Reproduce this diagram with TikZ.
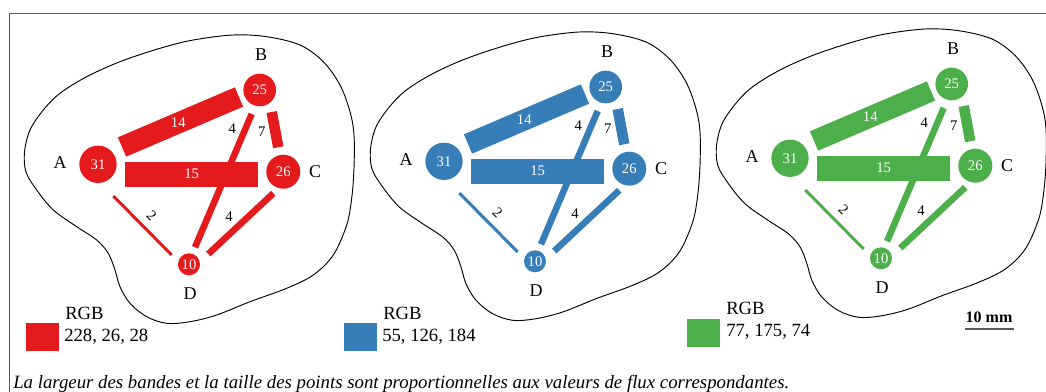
\documentclass[tikz,border=0pt]{standalone}
\usepackage{fontspec}
\setmainfont{Liberation Serif}
\definecolor{cred}{RGB}{228,26,28}
\definecolor{cblue}{RGB}{55,126,184}
\definecolor{cgreen}{RGB}{77,175,74}
\definecolor{framegray}{RGB}{90,90,90}
\begin{document}
\begin{tikzpicture}[x=0.75pt,y=-0.75pt,
  frame/.style={draw=framegray, line width=1.1pt},
  blob/.style={draw=black, line width=0.7pt},
  spot/.style={circle, inner sep=0pt, text=white, font=\fontsize{11}{13}\selectfont},
  band/.style={line cap=butt},
  bandlab/.style={font=\fontsize{11}{13}\selectfont, inner sep=0pt},
  letter/.style={font=\fontsize{13.5}{15}\selectfont, inner sep=0pt},
  legtext/.style={font=\fontsize{14}{16}\selectfont, inner sep=0pt, anchor=west},
  legsq/.style={inner sep=0pt, minimum width=24.75pt, minimum height=21pt},
]
\useasboundingbox (0,0) rectangle (1046,392);
\coordinate (f1) at (9.5,392);
\coordinate (f2) at (9.5,13.5);
\coordinate (f3) at (1046,13.5);
\draw[frame] (f1) -- (f2) -- (f3);

\foreach \i/\col/\dx/\dy in {1/cred/0/0, 2/cblue/346/-3, 3/cgreen/692/-6}{
 \begin{scope}[shift={(\dx,\dy)}]
  \draw[blob] plot[smooth cycle, tension=0.55] coordinates {
   (24.5,152) (30,130) (43.3,110) (60,93.3) (86.7,76.7) (120,61.7) (160,48.3)
   (193.3,40) (233.3,35) (266.7,36.7) (300,45) (323.3,61.7) (340,85)
   (350,111.7) (354,135) (354,168.3) (351.7,198.3) (346.7,225) (333.3,255)
   (313.3,275) (286.7,288.3) (250,301.7) (216.7,315) (190,321.7) (166.7,323.3)
   (146.7,316.7) (130,303.3) (120,286.7) (115,270) (108.3,253.3) (96.7,240)
   (76.7,226.7) (53.3,210) (36.7,190) (26,172)};
  % band end points
  \coordinate (ab1\i) at (122,147);   \coordinate (ab2\i) at (239,97);
  \coordinate (ac1\i) at (125,174.5); \coordinate (ac2\i) at (258,174.5);
  \coordinate (bc1\i) at (271.7,112); \coordinate (bc2\i) at (278.3,147.3);
  \coordinate (bd1\i) at (251.7,114); \coordinate (bd2\i) at (195,247.3);
  \coordinate (cd1\i) at (273.3,193.3); \coordinate (cd2\i) at (208.3,254);
  \coordinate (ad1\i) at (113.3,196); \coordinate (ad2\i) at (171.7,255);
  \draw[band, draw=\col, line width=15.75pt] (ab1\i) -- (ab2\i);
  \draw[band, draw=\col, line width=4.9pt] (bd1\i) -- (bd2\i);
  \draw[band, draw=\col, line width=18.4pt] (ac1\i) -- (ac2\i);
  \draw[band, draw=\col, line width=7.9pt] (bc1\i) -- (bc2\i);
  \draw[band, draw=\col, line width=4.9pt] (cd1\i) -- (cd2\i);
  \draw[band, draw=\col, line width=2.25pt] (ad1\i) -- (ad2\i);
  % band labels
  \node[bandlab, text=white] (l14\i) at (178.3,122.7) {14};
  \node[bandlab, text=white] (l15\i) at (191.7,174) {15};
  \node[bandlab] (lbd\i) at (232.3,128.3) {4};
  \node[bandlab] (lbc\i) at (261.7,131.7) {7};
  \node[bandlab, rotate=-45] (lad\i) at (151.7,216) {2};
  \node[bandlab] (lcd\i) at (229,216.7) {4};
  % spots
  \node[spot, fill=\col, minimum size=28pt] (A\i) at (98,164.3) {31};
  \node[spot, fill=\col, minimum size=24.5pt] (B\i) at (259.7,90) {25};
  \node[spot, fill=\col, minimum size=25.5pt] (C\i) at (283.3,171.7) {26};
  \node[spot, fill=\col, minimum size=16.5pt] (D\i) at (189,264.3) {10};
  % letters
  \node[letter] (tA\i) at (60,163) {A};
  \node[letter] (tB\i) at (261,54.3) {B};
  \node[letter] (tC\i) at (315,171.7) {C};
  \node[letter] (tD\i) at (190,293.3) {D};
 \end{scope}
}

% legends
\node[legsq, fill=cred] (sq1) at (42.5,337) {};
\node[legtext] (rgb1) at (65,313) {RGB};
\node[legtext] (val1) at (64,337) {228, 26, 28};
\node[legsq, fill=cblue] (sq2) at (360,337) {};
\node[legtext] (rgb2) at (383,313) {RGB};
\node[legtext] (val2) at (382,337) {55, 126, 184};
\node[legsq, fill=cgreen] (sq3) at (703.5,332.5) {};
\node[legtext] (rgb3) at (726,308) {RGB};
\node[legtext] (val3) at (726,332) {77, 175, 74};

% scale bar
\node[inner sep=0pt, font=\bfseries\fontsize{12}{14}\selectfont] (sc) at (989,317) {10 mm};
\coordinate (s1) at (965,329);
\coordinate (s2) at (1014,329);
\draw[draw=framegray, line width=1.1pt] (s1) -- (s2);

% caption
\node[anchor=base west, inner sep=0pt, font=\itshape\fontsize{14.1}{16}\selectfont] (cap) at (13,388)
 {La largeur des bandes et la taille des points sont proportionnelles aux valeurs de flux correspondantes.};
\end{tikzpicture}
\end{document}
